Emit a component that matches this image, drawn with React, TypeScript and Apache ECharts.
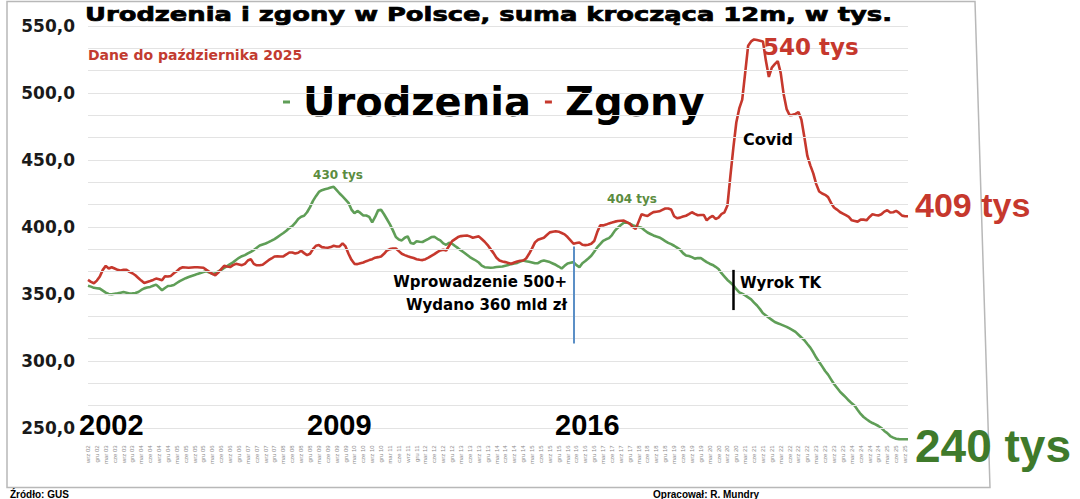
import React, { useEffect, useRef } from "react";
import * as echarts from "echarts";

const MONTHS = ["sty", "lut", "mar", "kwi", "maj", "cze", "lip", "sie", "wrz", "paź", "lis", "gru"];

// categories: monthly from wrz 2002 to paź 2025
const categories: string[] = [];
for (let i = 0; i < 278; i++) {
  const mi = (8 + i) % 12;
  const yr = 2002 + Math.floor((8 + i) / 12);
  categories.push(`${MONTHS[mi]} ${String(yr).slice(2)}`);
}

// Zgony (deaths), 12m rolling sum, thousands
const deaths = [
  360.5, 359, 358, 360, 363, 368, 371, 369, 370, 369,
  368, 367.6, 368, 368, 366.5, 365.5, 364, 362, 360, 358.2,
  359, 359.7, 360.5, 361.5, 361, 360.2, 363.2, 363, 363.5, 365.5,
  367, 369, 370, 369.8, 369.6, 369.8, 370, 370, 369.8, 369.6,
  368, 366.5, 365, 364, 366, 368.5, 371, 370.5, 370.1, 371.5,
  372.5, 372, 371.5, 372.5, 375, 376, 372.5, 371.4, 371.4, 371.8,
  373.5, 375.2, 376.5, 378, 378.1, 378, 378.1, 379.5, 381, 381,
  380.3, 380.8, 382.3, 380.5, 379, 380, 383.5, 386, 386.5, 385,
  384.7, 384.5, 385, 386, 385.5, 385.5, 387.8, 385.5, 380, 375.5,
  372.5, 372.3, 373, 373.5, 374.5, 375.3, 376, 377.1, 377.5, 378,
  380, 382.5, 383.5, 384, 384, 382, 380, 379, 378.2, 377.5,
  376.8, 376, 375.5, 375.3, 376, 377.1, 378.5, 379.8, 381.3, 382.5,
  383, 382.5, 386, 389.5, 391, 392.5, 393.2, 393.5, 393.7, 393,
  392, 392.5, 393, 391, 389, 386.5, 383.5, 380.5, 377, 375,
  374.3, 373.8, 373.2, 372.6, 373.5, 374.3, 374.8, 375, 376.5, 380,
  384, 388.5, 390.5, 391.3, 392, 394, 396, 396.5, 396.8, 396.5,
  395.5, 394.5, 392.5, 390, 387.5, 388, 388.5, 386.8, 386.5, 386.8,
  387.5, 389.5, 396, 401.2, 401.2, 401.8, 402.7, 403.3, 404, 404.5,
  404.7, 404.8, 403.6, 402.5, 400, 398.5, 404, 409.5, 408.8, 408.2,
  409.8, 411.1, 411.4, 411.7, 412.8, 413.8, 413.8, 413, 408, 406.5,
  407, 407.8, 408.4, 409.6, 411, 409.8, 408.8, 409, 409, 405,
  407, 408.3, 406, 407, 409.7, 411, 416, 438, 459, 478,
  488.5, 495, 515, 535.3, 538.5, 540, 539.5, 539, 538.5, 524,
  512, 519, 521.5, 523.8, 515, 499, 488, 483.5, 483.7, 484.4,
  485.8, 480, 467, 453, 446, 440, 432, 426.5, 425, 424,
  422.3, 418, 414.6, 413, 411.2, 410, 408.8, 407.5, 405, 404.5,
  404, 405.5, 405.5, 405, 407.5, 409.5, 409, 408.6, 409.5, 411.5,
  412.5, 410.8, 411, 412, 410.5, 408.5, 408, 408,
];

// Urodzenia (births), 12m rolling sum, thousands
const births = [
  356.2, 355.5, 354.6, 354.3, 354, 352.5, 351, 350, 349.8, 350.2,
  350.5, 351, 351.5, 351, 350.4, 350.5, 350.7, 351.5, 353, 354.2,
  354.8, 355.3, 356.2, 357, 355, 352.8, 354.5, 356, 356.2, 356.7,
  358.2, 359.6, 360.7, 361.8, 362.7, 363.5, 364.2, 365, 365.7, 366.4,
  367, 366, 365, 365.5, 366.8, 368, 369.5, 370.8, 372.3, 373.6,
  375.4, 377, 378.2, 379, 380.3, 381.5, 382.8, 384.5, 386.2, 387,
  387.7, 388.7, 389.8, 391, 392.5, 394, 395.5, 397.2, 399.2, 400.6,
  403, 406, 407.7, 408.4, 411, 414.8, 419.5, 423, 426.2, 427.5,
  428.2, 428.7, 429.4, 430, 427.5, 425, 422.8, 420.5, 418, 413,
  410.3, 412, 410.5, 408.6, 408.6, 407.5, 403.5, 407.5, 412.4, 412.8,
  409.5, 405.8, 402, 397.5, 392.5, 390.7, 390, 392, 393, 388,
  387.5, 389.4, 389, 388.8, 390, 391.2, 392.5, 392.7, 391.2, 390,
  387.8, 386.7, 388.3, 387.5, 385.8, 384.2, 382.5, 381, 379.3, 377.6,
  376.3, 375, 373.5, 371.2, 370, 369.8, 369.6, 369.8, 370.1, 370.3,
  370.5, 371.1, 371.7, 372.3, 372.7, 373.2, 374.2, 375, 374.4, 374,
  373.5, 372.9, 373, 374.4, 375, 374.4, 373.8, 372.8, 371.8, 370.5,
  369, 371, 372.8, 373.3, 373.8, 371.5, 370, 373, 374.6, 376.5,
  378.5, 381.5, 384.8, 387.2, 389.7, 390.8, 391.7, 394, 397.3, 399.5,
  401.5, 403.2, 403.4, 402.5, 401.3, 400.5, 400, 399.4, 397.6, 395.9,
  394.8, 393.7, 392.9, 392.2, 390.9, 389.5, 388.2, 387.2, 386, 384.6,
  383.1, 380.5, 378.7, 378.3, 377.5, 376.4, 376.8, 376.9, 375.3, 373.8,
  372.6, 371.7, 370.3, 368.7, 365.5, 363, 360.5, 358.6, 356.5, 353.6,
  351.2, 350.2, 349, 347.5, 346, 343.6, 341.4, 338.7, 335.7, 334,
  332.3, 330.7, 329.1, 328.2, 327.3, 326.4, 325.5, 324.3, 323.1, 321.7,
  319.6, 317.5, 315.5, 312.7, 310, 306.5, 302.6, 299.3, 296, 292.5,
  289.8, 286.3, 282.8, 280, 277.2, 275, 272.8, 270.5, 268.4, 266.6,
  263.5, 260.5, 258.2, 256.5, 255, 253.7, 252.7, 251.5, 250, 247.8,
  246.2, 244, 242.8, 242, 241.7, 241.6, 241.6, 241.6,
];

// horizontal gridlines (three per labelled 50-step)
const gridValues: number[] = [];
for (let k = 0; k <= 18; k++) gridValues.push(250 + (k * 50) / 3);

// annotation events (category index, y range)
const event500 = { idx: 164, from: 385.5, to: 313 };
const eventTK = { idx: 218, from: 368, to: 338 };

const RED = "#c6382d";
const GREEN = "#5f9e57";

function txt(text: string, x: number, y: number, font: string, fill: string, align = "left", vAlign = "middle", scaleX = 1, strokeW = 0) {
  const style: any = { text, font, fill, textAlign: align, textVerticalAlign: vAlign, verticalAlign: vAlign };
  if (strokeW > 0) {
    style.stroke = fill;
    style.lineWidth = strokeW;
  }
  return { type: "text", x, y, scaleX, silent: true, z: 20, style };
}

export default function App() {
  const ref = useRef<HTMLDivElement>(null);
  useEffect(() => {
    const chart = echarts.init(ref.current as HTMLDivElement, null, { renderer: "svg" });
    const option: any = {
      animation: false,
      backgroundColor: "#ffffff",
      grid: { left: 88, right: 172, top: 26, bottom: 57.6 },
      legend: {
        data: ["Urodzenia", "Zgony"],
        left: 283,
        top: 82,
        padding: 0,
        icon: "rect",
        itemWidth: 7,
        itemHeight: 3,
        itemGap: 14,
        selectedMode: false,
        textStyle: {
          fontSize: 40,
          fontWeight: "bold",
          fontFamily: "DejaVu Sans",
          color: "#000",
          padding: [0, 0, 0, 8],
        },
      },
      xAxis: {
        type: "category",
        data: categories,
        boundaryGap: false,
        axisLine: { show: false },
        axisTick: { show: false },
        splitLine: { show: false },
        axisLabel: { interval: 2, rotate: 90, fontSize: 6, color: "#8c8c8c", margin: 4, fontFamily: "Liberation Sans" },
      },
      yAxis: {
        type: "value",
        min: 240,
        max: 550,
        interval: 10,
        axisLine: { show: false },
        axisTick: { show: false },
        splitLine: { show: false },
        axisLabel: {
          formatter: (v: number) => (v >= 250 && Math.abs(v % 50) < 1e-6 ? v.toFixed(1).replace(".", ",") : ""),
          fontSize: 17,
          fontWeight: "bold",
          fontFamily: "DejaVu Sans",
          color: "#1a1a1a",
          margin: 13,
        },
      },
      series: [
        {
          name: "grid",
          type: "line",
          data: categories.map(() => "-"),
          silent: true,
          z: 1,
          markLine: {
            silent: true,
            symbol: ["none", "none"],
            label: { show: false },
            emphasis: { disabled: true },
            lineStyle: { color: "#e3e3e3", width: 1, type: "solid" },
            data: gridValues.map((v) => ({ yAxis: v })),
          },
        },
        {
          name: "Urodzenia",
          type: "line",
          data: births,
          showSymbol: false,
          symbol: "none",
          silent: true,
          z: 3,
          itemStyle: { color: GREEN },
          lineStyle: { color: GREEN, width: 2.6 },
          markLine: {
            silent: true,
            symbol: ["none", "none"],
            label: { show: false },
            emphasis: { disabled: true },
            lineStyle: { color: "#5b8fc6", width: 2, type: "solid" },
            data: [[{ coord: [categories[event500.idx], event500.from] }, { coord: [categories[event500.idx], event500.to] }]],
          },
        },
        {
          name: "Zgony",
          type: "line",
          data: deaths,
          showSymbol: false,
          symbol: "none",
          silent: true,
          z: 4,
          itemStyle: { color: RED },
          lineStyle: { color: RED, width: 2.6 },
          markLine: {
            silent: true,
            symbol: ["none", "none"],
            label: { show: false },
            emphasis: { disabled: true },
            lineStyle: { color: "#000", width: 2.5, type: "solid" },
            data: [[{ coord: [categories[eventTK.idx], eventTK.from] }, { coord: [categories[eventTK.idx], eventTK.to] }]],
          },
        },
      ],
      graphic: [
        {
          type: "polygon",
          silent: true,
          z: 0,
          shape: { points: [[7, 1.5], [975, 1.5], [990, 487.5], [7, 487.5]] },
          style: { fill: "none", stroke: "#b8b8b8", lineWidth: 1.5 },
        },
        txt("Urodzenia i zgony w Polsce, suma krocząca 12m, w tys.", 85, 14, 'bold 20px "DejaVu Sans"', "#000", "left", "middle", 1.29, 0.7),
        txt("Dane do października 2025", 88, 55, 'bold 14px "DejaVu Sans"', "#c23b30"),
        txt("430 tys", 338, 175, 'bold 12px "DejaVu Sans"', "#5b8c40", "center"),
        txt("404 tys", 632, 199, 'bold 12px "DejaVu Sans"', "#5b8c40", "center"),
        txt("540 tys", 763, 46.5, 'bold 23px "DejaVu Sans"', RED),
        txt("Covid", 768, 139, 'bold 16px "DejaVu Sans"', "#000", "center"),
        txt("409 tys", 915, 205, 'bold 34px "Liberation Sans"', RED),
        txt("240 tys", 915, 446, 'bold 46px "Liberation Sans"', "#3f7a2b"),
        txt("Wprowadzenie 500+", 567, 282, 'bold 15px "DejaVu Sans"', "#000", "right"),
        txt("Wydano 360 mld zł", 567, 305, 'bold 15px "DejaVu Sans"', "#000", "right"),
        txt("Wyrok TK", 740, 283, 'bold 15px "DejaVu Sans"', "#000"),
        txt("2002", 79, 425, 'bold 29px "Liberation Sans"', "#000"),
        txt("2009", 307, 425, 'bold 29px "Liberation Sans"', "#000"),
        txt("2016", 555, 425, 'bold 29px "Liberation Sans"', "#000"),
        txt("Źródło: GUS", 10, 489, 'bold 10px "Liberation Sans"', "#000", "left", "top"),
        txt("Opracował: R. Mundry", 653, 489, 'bold 10px "Liberation Sans"', "#000", "left", "top"),
      ],
    };
    chart.setOption(option);
    return () => chart.dispose();
  }, []);
  return (
    <div
      ref={ref}
      style={{ position: "fixed", left: 0, top: 0, width: 1080, height: 499, background: "#fff" }}
    />
  );
}
